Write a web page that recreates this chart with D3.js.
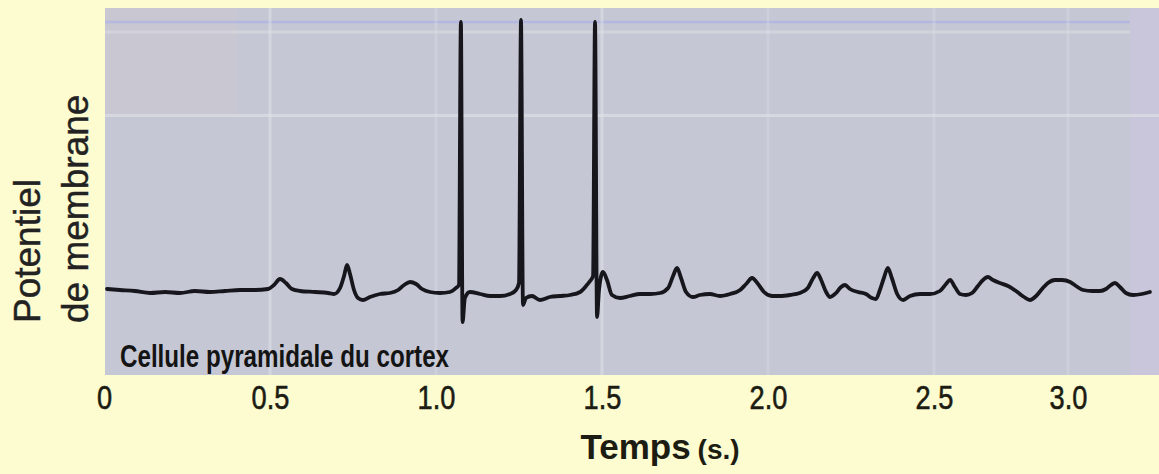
<!DOCTYPE html>
<html>
<head>
<meta charset="utf-8">
<script src="https://cdn.jsdelivr.net/npm/d3@7"></script>
<style>
  html, body { margin: 0; padding: 0; background: #fdfbd0; }
  svg { display: block; }
  text { font-family: "Liberation Sans", Arial, sans-serif; }
</style>
</head>
<body>
<svg id="chart" width="1159" height="474"></svg>
<script>
// Membrane potential recording (time in s, potential in mV)
const timeS = [
  0.009, 0.048, 0.093, 0.139, 0.184, 0.229, 0.274, 0.319, 0.364, 0.410,
  0.455, 0.494, 0.512, 0.530, 0.548, 0.566, 0.590, 0.636, 0.675, 0.693,
  0.711, 0.723, 0.732, 0.741, 0.753, 0.765, 0.780, 0.801, 0.831, 0.861,
  0.886, 0.904, 0.922, 0.940, 0.958, 0.982, 1.012, 1.042, 1.060, 1.069,
  1.075, 1.080, 1.087, 1.102, 1.133, 1.163, 1.193, 1.223, 1.241, 1.250,
  1.256, 1.262, 1.271, 1.289, 1.313, 1.343, 1.373, 1.404, 1.434, 1.452,
  1.464, 1.473, 1.479, 1.485, 1.491, 1.503, 1.515, 1.530, 1.554, 1.584,
  1.614, 1.645, 1.675, 1.699, 1.714, 1.726, 1.738, 1.753, 1.774, 1.795,
  1.825, 1.855, 1.886, 1.916, 1.934, 1.952, 1.970, 1.988, 2.012, 2.036,
  2.066, 2.096, 2.120, 2.136, 2.148, 2.160, 2.175, 2.187, 2.205, 2.220,
  2.232, 2.247, 2.271, 2.295, 2.313, 2.325, 2.337, 2.349, 2.361, 2.373,
  2.389, 2.407, 2.428, 2.458, 2.488, 2.522, 2.545, 2.560, 2.578, 2.597,
  2.619, 2.642, 2.664, 2.683, 2.701, 2.720, 2.746, 2.776, 2.806, 2.836,
  2.858, 2.881, 2.903, 2.925, 2.951, 2.978, 3.007, 3.027, 3.051, 3.081,
  3.108, 3.128, 3.145, 3.158, 3.175, 3.195, 3.219, 3.249, 3.276
];
const membraneMV = [
  -69.4, -69.8, -70.2, -71.0, -70.6, -71.0, -70.2, -70.6, -70.2, -69.8,
  -69.8, -69.4, -67.8, -65.4, -67.0, -69.4, -70.2, -70.6, -71.0, -71.4,
  -69.0, -64.2, -59.8, -63.4, -69.8, -73.0, -73.8, -72.6, -71.4, -71.0,
  -69.8, -67.8, -66.6, -67.4, -69.4, -70.6, -71.0, -70.6, -69.0, -67.8,
   37.4, -82.6, -73.0, -70.6, -71.4, -72.2, -72.2, -71.4, -69.8, -67.0,
   38.2, -75.8, -73.0, -72.2, -73.8, -72.6, -72.2, -71.8, -70.6, -68.2,
  -66.2, -64.2,  37.4, -80.6, -69.8, -62.6, -65.8, -71.8, -73.0, -72.2,
  -71.4, -71.4, -71.0, -69.0, -64.2, -61.0, -65.0, -70.6, -72.6, -71.8,
  -71.4, -72.2, -71.4, -69.8, -67.4, -65.0, -67.4, -70.6, -72.2, -72.2,
  -71.8, -71.0, -69.0, -65.0, -63.0, -65.8, -70.6, -72.6, -71.0, -68.6,
  -67.8, -69.4, -70.6, -71.4, -73.0, -73.4, -69.8, -65.0, -61.0, -65.0,
  -71.4, -73.8, -72.2, -71.4, -71.4, -70.2, -67.4, -65.8, -68.6, -71.4,
  -71.8, -71.0, -68.2, -65.8, -64.6, -65.8, -67.0, -68.2, -70.2, -72.6,
  -73.8, -72.2, -69.4, -67.0, -65.8, -65.8, -66.6, -68.2, -69.8, -70.2,
  -70.2, -69.4, -67.8, -67.0, -68.6, -71.0, -71.8, -71.4, -70.6
];

// Axis ticks
const tickValues = [0, 0.5, 1.0, 1.5, 2.0, 2.5, 3.0];
const tickLabels = ["0", "0.5", "1.0", "1.5", "2.0", "2.5", "3.0"];
const gridMV = [0];
const topRulesMV = [37.4, 33.4];

// Texts
const cellLabel = "Cellule pyramidale du cortex";
const xTitle = "Temps";
const xUnit = "(s.)";
const yTitleLines = ["Potentiel", "de membrane"];

const svg = d3.select("#chart");
const W = 1159, H = 474;

// Scales: the time axis of the figure is slightly uneven after 2.5 s
const x = d3.scaleLinear()
  .domain([0, 2.5, 3.0, 3.3])
  .range([104, 934, 1068, 1157]);
const y = d3.scaleLinear()
  .domain([-103, 43])
  .range([373, 8]);

const plotLeft = 105, plotRight = W, plotTop = 8, plotBottom = 375;

// Plot panel
svg.append("rect")
  .attr("x", plotLeft).attr("y", plotTop)
  .attr("width", plotRight - plotLeft).attr("height", plotBottom - plotTop)
  .attr("fill", "#c5c8d4");
// slightly warmer upper-left corner and cooler right strip of the panel
svg.append("rect")
  .attr("x", plotLeft).attr("y", plotTop)
  .attr("width", x(0.4) - plotLeft).attr("height", y(0) - plotTop)
  .attr("fill", "#cbc6d2").attr("opacity", 0.7);
svg.append("rect")
  .attr("x", 1130).attr("y", plotTop)
  .attr("width", plotRight - 1130).attr("height", plotBottom - plotTop)
  .attr("fill", "#c9c6dc").attr("opacity", 0.8);

// Faint rules near the top of the panel
svg.append("g").selectAll("line")
  .data(topRulesMV)
  .join("line")
  .attr("x1", plotLeft).attr("x2", 1130)
  .attr("y1", d => y(d)).attr("y2", d => y(d))
  .attr("stroke", (d, i) => i === 0 ? "#b1b5e4" : "#d6d7de")
  .attr("stroke-width", (d, i) => i === 0 ? 2.5 : 3)
  .attr("opacity", 0.8);

// Light gridlines
svg.append("g").selectAll("line")
  .data(gridMV)
  .join("line")
  .attr("x1", plotLeft).attr("x2", plotRight)
  .attr("y1", d => y(d)).attr("y2", d => y(d))
  .attr("stroke", "#dcdee4").attr("stroke-width", 3).attr("opacity", 0.75);

svg.append("g").selectAll("line")
  .data(tickValues.filter(d => d > 0))
  .join("line")
  .attr("x1", d => x(d)).attr("x2", d => x(d))
  .attr("y1", plotTop).attr("y2", plotBottom)
  .attr("stroke", "#e2e4ea").attr("stroke-width", 3)
  .attr("opacity", d => (d === 0.5 || d === 1.5) ? 0.5 : 0.28);

// Membrane potential trace
const points = timeS.map((t, i) => ({ t, v: membraneMV[i] }));
const line = d3.line()
  .x(d => x(d.t))
  .y(d => y(d.v))
  .curve(d3.curveMonotoneX);

svg.append("path")
  .datum(points)
  .attr("d", line)
  .attr("fill", "none")
  .attr("stroke", "#16161c")
  .attr("stroke-width", 3.8)
  .attr("stroke-linejoin", "round")
  .attr("stroke-linecap", "round");

// Cell label inside the panel
svg.append("text")
  .attr("transform", "translate(120,367) scale(0.78,1)")
  .attr("font-size", 31)
  .attr("font-weight", "bold")
  .attr("fill", "#141414")
  .text(cellLabel);

// X axis
const xAxis = d3.axisBottom(x)
  .tickValues(tickValues)
  .tickFormat((d, i) => tickLabels[i])
  .tickSize(0)
  .tickPadding(0);

const gx = svg.append("g")
  .attr("transform", "translate(0,409)")
  .call(xAxis);
gx.select(".domain").remove();
gx.selectAll("text")
  .attr("y", 0).attr("dy", 0)
  .attr("font-size", 34)
  .attr("font-family", "'Liberation Sans', Arial, sans-serif")
  .attr("fill", "#1c1c12")
  .attr("stroke", "#1c1c12").attr("stroke-width", 0.6)
  .attr("transform", "scale(0.8,1)");

// X title
const xt = svg.append("text")
  .attr("x", 660).attr("y", 459)
  .attr("text-anchor", "middle")
  .attr("fill", "#1c1c12");
xt.append("tspan").attr("font-size", 35).attr("font-weight", "bold").text(xTitle);
xt.append("tspan").attr("font-size", 28).attr("font-weight", "bold").attr("dx", 7).text(xUnit);

// Y title (two rotated lines)
svg.append("g").selectAll("text")
  .data(yTitleLines)
  .join("text")
  .attr("transform", (d, i) => `translate(${i === 0 ? 40 : 88},323) rotate(-90)`)
  .attr("font-size", 37)
  .attr("fill", "#222")
  .attr("stroke", "#222").attr("stroke-width", 0.4)
  .text(d => d);
</script>
</body>
</html>
